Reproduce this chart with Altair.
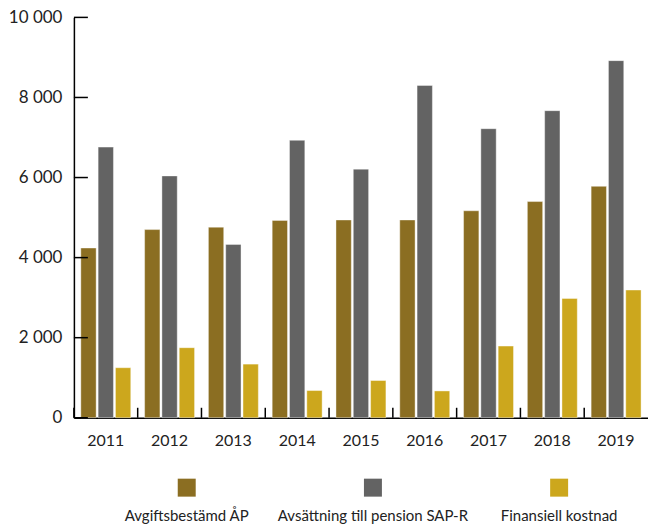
import altair as alt
import pandas as pd

years = ["2011", "2012", "2013", "2014", "2015", "2016", "2017", "2018", "2019"]
series = ["Avgiftsbestämd ÅP", "Avsättning till pension SAP-R", "Finansiell kostnad"]
ap = [4240, 4700, 4760, 4930, 4940, 4940, 5170, 5400, 5780]
sap = [6760, 6040, 4330, 6930, 6210, 8300, 7220, 7670, 8920]
fin = [1250, 1750, 1340, 680, 930, 670, 1790, 2980, 3190]
colors = ["#8B6E22", "#636363", "#CCA71D"]
yticks = [0, 2000, 4000, 6000, 8000, 10000]

rows = []
for s, vals in zip(series, [ap, sap, fin]):
    for y, v in zip(years, vals):
        rows.append({"year": y, "series": s, "value": v})
df = pd.DataFrame(rows)

W, H = 575, 401

color_enc = alt.Color("series:N", sort=series,
                      scale=alt.Scale(domain=series, range=colors), legend=None)

bars = alt.Chart(df).mark_bar(stroke="white", strokeWidth=0.8, strokeOpacity=0.5).encode(
    x=alt.X("year:N", sort=years,
            scale=alt.Scale(paddingInner=0, paddingOuter=0),
            axis=alt.Axis(title=None, labelAngle=0, ticks=False, labelPadding=15,
                          labelFontSize=16, labelColor="#222", domainColor="black",
                          domainWidth=1.5)),
    xOffset=alt.XOffset("series:N", sort=series,
                        scale=alt.Scale(paddingInner=0.115, paddingOuter=0.4)),
    y=alt.Y("value:Q", scale=alt.Scale(domain=[0, 10000]),
            axis=alt.Axis(title=None, values=yticks, grid=False, ticks=False,
                          labelPadding=12, labelFontSize=17, labelColor="#222",
                          domainColor="black", domainWidth=1.5,
                          labelExpr="replace(format(datum.value, ','), ',', ' ')")),
    color=color_enc,
)

ytick_rules = alt.Chart(pd.DataFrame({"value": yticks})).mark_rule(
    color="black", strokeWidth=1.5).encode(
    y=alt.Y("value:Q", title=None),
    x=alt.value(0), x2=alt.value(14),
)

xtick_rules = alt.Chart(pd.DataFrame({"year": years})).mark_rule(
    color="black", strokeWidth=1.5).encode(
    x=alt.X("year:N", sort=years, bandPosition=0, title=None),
    y=alt.value(H - 10), y2=alt.value(H),
)

main = alt.layer(bars, ytick_rules, xtick_rules).properties(width=W, height=H)

leg_df = pd.DataFrame({"series": series})
leg_x = alt.X("series:N", sort=series,
              scale=alt.Scale(type="point", range=[113, 486], padding=0), axis=None)
leg_sq = alt.Chart(leg_df).mark_square(size=324, opacity=1).encode(
    x=leg_x, y=alt.value(27), color=color_enc)
leg_tx = alt.Chart(leg_df).mark_text(fontSize=15, baseline="alphabetic", color="#222").encode(
    x=leg_x, y=alt.value(60), text="series:N")
legend = alt.layer(leg_sq, leg_tx).properties(width=W, height=60)

chart = alt.vconcat(main, legend, spacing=12).resolve_scale(x="independent").properties(
    padding=0).configure(font="Lato").configure_view(stroke=None)

chart.save("out.html", embed_options={"renderer": "svg", "actions": False})
